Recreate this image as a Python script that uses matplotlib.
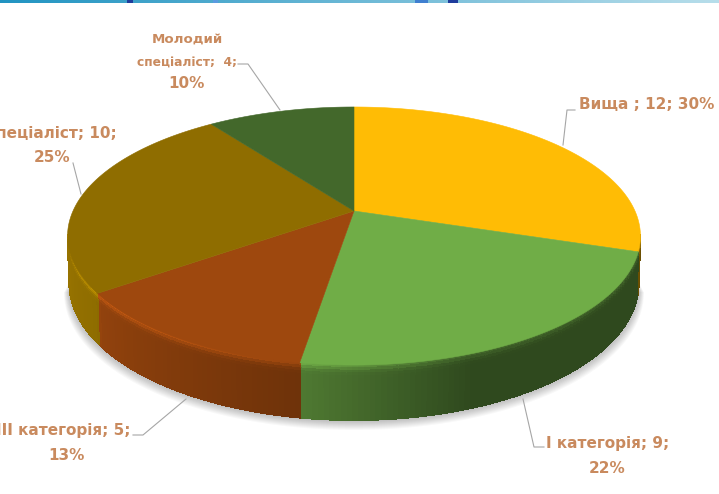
import numpy as np
import matplotlib
matplotlib.use('Agg')
import matplotlib.pyplot as plt
from matplotlib.collections import PolyCollection
from matplotlib.colors import to_rgb

categories = ['Вища', 'I категорія', 'III категорія', 'Спеціаліст', 'Молодий спеціаліст']
values = [12, 9, 5, 10, 4]
percents = ['30%', '22%', '13%', '25%', '10%']
colors = ['#FFBC05', '#70AD47', '#9E480E', '#8F6D00', '#43682B']

label_color = '#C98A5E'
line_color = '#A6A6A6'

# pie in picture pixels, with a simple perspective so the near side is bigger
CX, CY = 354, 211
RX, RY, K = 281, 124.2, 0.194
# the wall is only seen between the two widest points of the projected circle
WALL_FROM, WALL_TO = np.pi * 0.56, np.pi * 1.44


def project(theta, depth=0.0):
    u, v = np.sin(theta), np.cos(theta)
    w = 1 + K * v
    scale = 1 - 0.006 * depth
    return CX + scale * RX * u / w, CY - RY * v / w + depth * (45 - 10 * v)


def shade(theta):
    deg = np.degrees(theta)
    return np.interp(deg, [90, 160, 189, 233, 235, 270], [0.42, 0.42, 0.70, 0.92, 1.0, 1.08])


def rim_light(t):
    # bright bevel just under the top edge
    return 1 + 0.4 * np.exp(-(t / 0.1) ** 2)


fig = plt.figure(figsize=(7.19, 4.94), dpi=100)
ax = fig.add_axes([0, 0, 1, 1])
ax.axis('off')

# banner left over at the top of the slide
band = np.linspace(0, 1, 256).reshape(1, -1, 1)
band = (1 - band) * np.array([0.13, 0.58, 0.76]) + band * np.array([0.72, 0.87, 0.92])
ax.imshow(band, extent=[0, 719, 3, 0], aspect='auto', zorder=1)
ax.fill_between([127, 133], 0, 3, color='#1F3C9C', zorder=2, lw=0)
ax.fill_between([213, 218], 0, 3, color='#5B9BE0', zorder=2, lw=0)
ax.fill_between([415, 428], 0, 3, color='#3F7FD0', zorder=2, lw=0)
ax.fill_between([448, 458], 0, 3, color='#1F3C9C', zorder=2, lw=0)
ax.set_xlim(0, 719)
ax.set_ylim(494, 0)

angles = np.cumsum([0] + values) / sum(values) * 2 * np.pi

# soft shadow under the pie
tt = np.linspace(WALL_FROM, WALL_TO, 200)
for grow in np.linspace(11, 1, 10):
    x, y = project(tt, 1.0)
    ax.fill(CX + (x - CX) * (1 + grow / 600), y + grow * 0.9, color='#000000', alpha=0.028, lw=0, zorder=3)

# side wall, split into small pieces for the shading
quads, quad_colors = [], []
depths = np.linspace(0, 1, 21)
for i, c in enumerate(colors):
    a0, a1 = angles[i], angles[i + 1]
    if a1 < WALL_FROM or a0 > WALL_TO:
        continue
    a0, a1 = max(a0, WALL_FROM), min(a1, WALL_TO)
    ths = np.linspace(a0, a1, int((a1 - a0) * 60) + 2)
    base = np.array(to_rgb(c))
    for th0, th1 in zip(ths[:-1], ths[1:]):
        for d0, d1 in zip(depths[:-1], depths[1:]):
            x00, y00 = project(th0, d0)
            x10, y10 = project(th1, d0)
            x11, y11 = project(th1, d1)
            x01, y01 = project(th0, d1)
            quads.append([(x00, y00), (x10, y10), (x11, y11), (x01, y01)])
            col = base * shade((th0 + th1) / 2) * rim_light((d0 + d1) / 2)
            quad_colors.append(np.clip(col, 0, 1))
ax.add_collection(PolyCollection(quads, facecolors=quad_colors, edgecolors=quad_colors,
                                 linewidths=0.6, antialiaseds=False, zorder=4))

# top of the pie
for i, c in enumerate(colors):
    ths = np.linspace(angles[i], angles[i + 1], 120)
    x, y = project(ths)
    ax.fill(np.r_[CX, x], np.r_[CY, y], color=c, lw=0.4, zorder=5)

# leader lines
ax.plot([238, 248, 280], [64, 64, 110], color=line_color, lw=0.8, zorder=6)
ax.plot([575, 567, 563], [110, 110, 145], color=line_color, lw=0.8, zorder=6)
ax.plot([73, 81], [163, 194], color=line_color, lw=0.8, zorder=6)
ax.plot([133, 143, 186], [435, 435, 399], color=line_color, lw=0.8, zorder=6)
ax.plot([544, 534, 523], [447, 447, 399], color=line_color, lw=0.8, zorder=6)

# labels, the two on the left run off the edge as they do in the original
font = dict(color=label_color, fontweight='bold', fontsize=11, family='DejaVu Sans', zorder=7, va='center')
ax.text(187, 39, 'Молодий', ha='center', **dict(font, fontsize=9.6))
ax.text(187, 63, 'спеціаліст;  %d;' % values[4], ha='center', **dict(font, fontsize=8.8))
ax.text(187, 84, percents[4], ha='center', **font)
ax.text(579, 104, '%s ; %d; %s' % (categories[0], values[0], percents[0]), ha='left', **font)
ax.text(117, 133, '%s; %d;' % (categories[3], values[3]), ha='right', **font)
ax.text(52, 157, percents[3], ha='center', **font)
ax.text(131, 430, '%s; %d;' % (categories[2], values[2]), ha='right', **font)
ax.text(66, 455, percents[2], ha='center', **font)
ax.text(546, 443, '%s; %d;' % (categories[1], values[1]), ha='left', **font)
ax.text(607, 468, percents[1], ha='center', **font)

fig.savefig('out.png', dpi=100)
